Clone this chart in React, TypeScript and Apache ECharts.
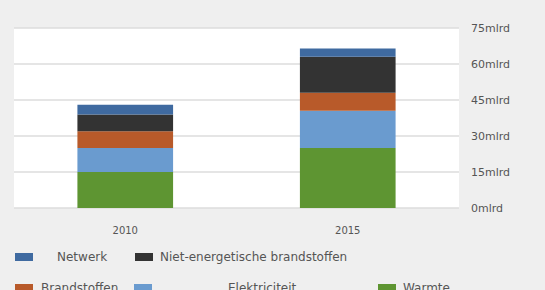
import React, { useEffect, useRef } from "react";
import * as echarts from "echarts";

const categories = ["2010", "2015"];
const warmte = [15, 25];
const elektriciteit = [10, 15.5];
const brandstoffen = [7, 7.5];
const nietEnergetisch = [7, 15];
const netwerk = [4, 3.5];
const yTicks = { min: 0, max: 75, interval: 15 };

const FONT = "DejaVu Sans";
const TXT = "#555";

export default function App() {
  const ref = useRef<HTMLDivElement>(null);
  useEffect(() => {
    document.body.style.margin = "0";
    const chart = echarts.init(ref.current!, null, { renderer: "svg" });
    const legendBase = (name: string, left: number, top: number, pad: number) => ({
      data: [name],
      left,
      top,
      orient: "horizontal",
      icon: "rect",
      itemWidth: 18,
      itemHeight: 8,
      itemGap: 0,
      padding: 0,
      selectedMode: false,
      textStyle: { fontFamily: FONT, fontSize: 12, color: TXT, padding: [0, 0, 0, pad], lineHeight: 12 },
    });
    chart.setOption({
      animation: false,
      backgroundColor: "#efefef",
      grid: {
        left: 14,
        right: 86,
        top: 28,
        bottom: 82,
        show: true,
        backgroundColor: "#ffffff",
        borderWidth: 0,
      },
      legend: [
        legendBase("Netwerk", 15, 251, 19),
        legendBase("Niet-energetische brandstoffen", 135, 251, 2),
        legendBase("Brandstoffen", 15, 282, 3),
        legendBase("Elektriciteit", 134, 282, 71),
        legendBase("Warmte", 378, 282, 2),
      ],
      xAxis: {
        type: "category",
        data: categories,
        axisLine: { show: false },
        axisTick: { show: false },
        axisLabel: { color: TXT, fontFamily: FONT, fontSize: 10, margin: 17 },
      },
      yAxis: {
        type: "value",
        position: "right",
        min: yTicks.min,
        max: yTicks.max,
        interval: yTicks.interval,
        axisLine: { show: false },
        axisTick: { show: false },
        splitLine: { lineStyle: { color: "#dcdcdc", width: 1.5 } },
        axisLabel: {
          color: TXT,
          fontFamily: FONT,
          fontSize: 11,
          margin: 12,
          formatter: "{value}mlrd",
        },
      },
      series: [
        { name: "Warmte", type: "bar", stack: "t", data: warmte, barWidth: "43%", itemStyle: { color: "#5e9532" } },
        { name: "Elektriciteit", type: "bar", stack: "t", data: elektriciteit, itemStyle: { color: "#6a9bcf" } },
        { name: "Brandstoffen", type: "bar", stack: "t", data: brandstoffen, itemStyle: { color: "#b85a2a" } },
        { name: "Niet-energetische brandstoffen", type: "bar", stack: "t", data: nietEnergetisch, itemStyle: { color: "#333333" } },
        { name: "Netwerk", type: "bar", stack: "t", data: netwerk, itemStyle: { color: "#3f6aa0" } },
      ],
    });
    return () => chart.dispose();
  }, []);
  return <div ref={ref} style={{ position: "absolute", left: 0, top: 0, width: 545, height: 290 }} />;
}
